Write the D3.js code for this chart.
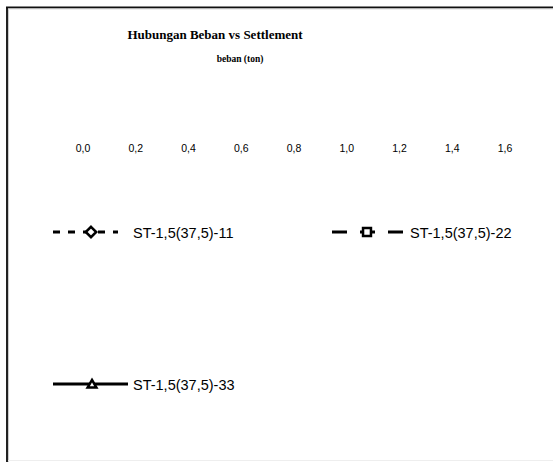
<!DOCTYPE html>
<html>
<head>
<meta charset="utf-8">
<script src="https://cdn.jsdelivr.net/npm/d3@7"></script>
<style>
  body { margin: 0; background: #fff; }
</style>
</head>
<body>
<svg class="chart"></svg>
<script>
// x axis ticks (beban, ton)
var xTicks = [0, 0.2, 0.4, 0.6, 0.8, 1.0, 1.2, 1.4, 1.6];

// series names + values (no points are visible inside the plotted range)
var seriesNames = ["ST-1,5(37,5)-11", "ST-1,5(37,5)-22", "ST-1,5(37,5)-33"];
var seriesBeban = [[], [], []];
var seriesSettlement = [[], [], []];

var svgWidth = 553, svgHeight = 462;

var svg = d3.select('svg.chart')
    .attr("width", svgWidth)
    .attr("height", svgHeight)
    .style('background-color', 'white');

// frame (left + top border, faint bottom)
svg.append('line')
    .attr('x1', 7).attr('y1', 7).attr('x2', 7).attr('y2', svgHeight)
    .style('stroke', '#222').style('stroke-width', 2);
svg.append('line')
    .attr('x1', 6).attr('y1', 7.5).attr('x2', svgWidth).attr('y2', 7.5)
    .style('stroke', '#111').style('stroke-width', 2);
svg.append('line')
    .attr('x1', 8.5).attr('y1', 9).attr('x2', 8.5).attr('y2', svgHeight)
    .style('stroke', '#ccc').style('stroke-width', 1);
svg.append('line')
    .attr('x1', 8).attr('y1', 9).attr('x2', svgWidth).attr('y2', 9)
    .style('stroke', '#ddd').style('stroke-width', 1);
svg.append('line')
    .attr('x1', 8).attr('y1', 460.5).attr('x2', svgWidth).attr('y2', 460.5)
    .style('stroke', '#eee').style('stroke-width', 1);

// Title
svg.append('text')
    .attr('x', 215)
    .attr('y', 39)
    .attr('text-anchor', 'middle')
    .style('font-family', 'Liberation Serif')
    .style('font-weight', 'bold')
    .style('font-size', '13px')
    .text('Hubungan Beban vs Settlement');

// X axis title
svg.append('text')
    .attr('x', 240)
    .attr('y', 62)
    .attr('text-anchor', 'middle')
    .style('font-family', 'Liberation Serif')
    .style('font-weight', 'bold')
    .style('font-size', '9.5px')
    .text('beban (ton)');

var locale = d3.formatLocale({ decimal: ",", thousands: ".", grouping: [3], currency: ["", ""] });

var xScale = d3.scaleLinear().domain([0, 1.6]).range([82.5, 504.5]);

var xAxis = svg.append("g")
    .attr("transform", "translate(0,155)")
    .call(d3.axisTop(xScale)
        .tickValues(xTicks)
        .tickSize(0)
        .tickPadding(3)
        .tickFormat(locale.format(".1f")));
xAxis.select(".domain").remove();
xAxis.selectAll("text")
    .style('font-family', 'Liberation Sans')
    .style('font-size', '10.5px')
    .attr('fill', '#000');

// legend
var legendPos = [[53, 232], [332, 232], [53, 384]];
var lineLen = [65, 71, 75];
var dashes = ["7,8", "15,13", null];
var symbols = [d3.symbolDiamond2, d3.symbolSquare2, d3.symbolTriangle2];
var symSize = [70, 80, 55];
var symOffset = [38, 35, 39];

var legend = svg.selectAll('g.legend')
    .data(seriesNames)
    .enter()
    .append('g')
    .attr('class', 'legend')
    .attr('transform', function (d, i) { return 'translate(' + legendPos[i][0] + ',' + legendPos[i][1] + ')'; });

legend.append('line')
    .attr('x1', 0)
    .attr('x2', function (d, i) { return lineLen[i]; })
    .attr('y1', 0).attr('y2', 0)
    .style('stroke', '#000')
    .style('stroke-width', 3)
    .style('stroke-dasharray', function (d, i) { return dashes[i]; });

legend.append('path')
    .attr('d', function (d, i) { return d3.symbol().type(symbols[i]).size(symSize[i])(); })
    .attr('transform', function (d, i) { return 'translate(' + symOffset[i] + ',' + (i == 2 ? 1 : 0) + ')'; })
    .style('fill', '#fff')
    .style('stroke', '#000')
    .style('stroke-width', 2.5);

legend.append('text')
    .attr('x', function (d, i) { return [80, 78, 80][i]; })
    .attr('y', 5.5)
    .style('font-family', 'Liberation Sans')
    .style('font-size', '14.5px')
    .text(function (d) { return d; });
</script>
</body>
</html>
